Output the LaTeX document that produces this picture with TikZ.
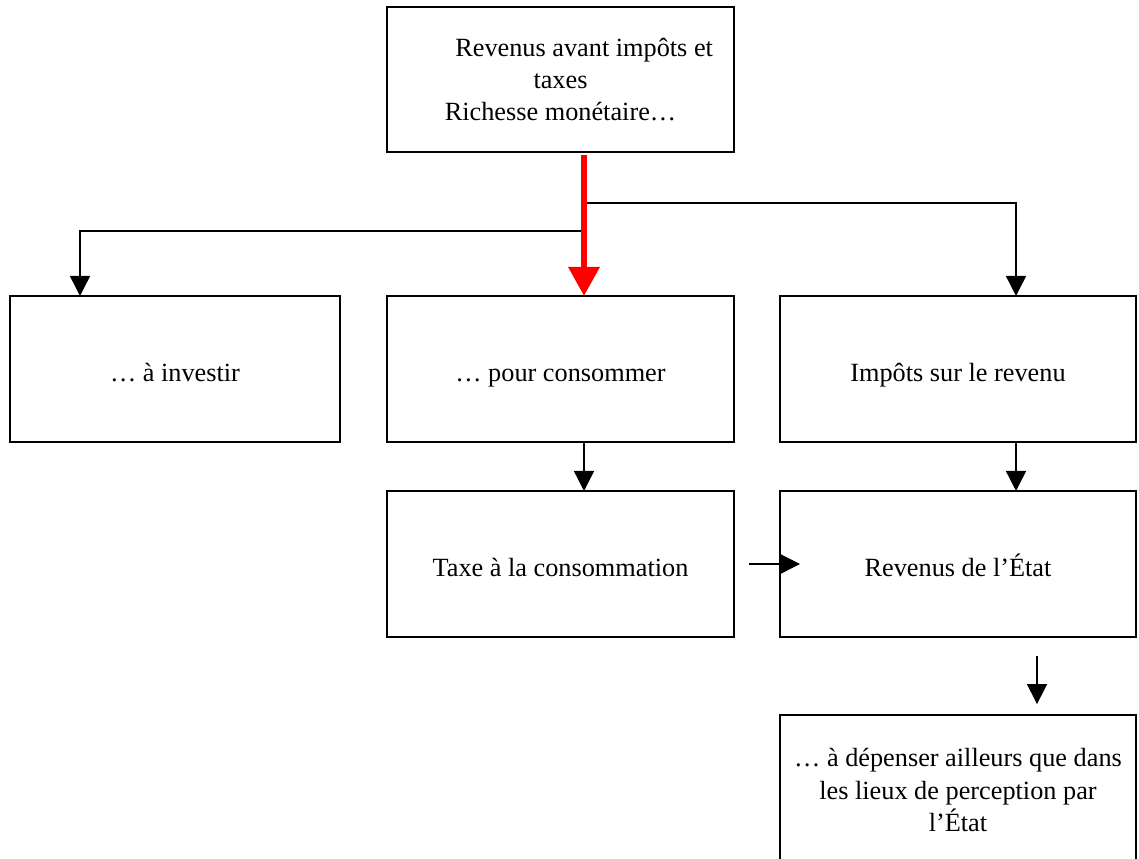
\documentclass[tikz,border=0pt]{standalone}
\usepackage{fontspec}
\setmainfont{Liberation Serif}
\usetikzlibrary{arrows.meta}

\begin{document}
\begin{tikzpicture}[x=0.43pt, y=-0.43pt, font={\fontsize{11.3pt}{13.8pt}\selectfont}, line cap=rect,
        box/.style={draw, line width=0.8pt, inner sep=0pt, outer sep=0pt, align=center, minimum height=62.8pt},
        oneline/.style={text height=10.5pt, text depth=0pt},
        arr/.style={-{Triangle[width=8.6pt,length=8.6pt]}, line width=0.6pt},
        redarr/.style={-{Triangle[width=13pt,length=12.5pt]}, color=red, line width=2.6pt, line cap=butt}]
            \clip (0, 0) rectangle (1139, 858);

            % boxes
            \node[box, minimum width=149.2pt, minimum height=62.4pt] (top) at (560.5, 79.5) {\hspace*{1.8em}Revenus avant impôts et\\taxes\\Richesse monétaire…};

            \node[box, oneline, minimum width=141.9pt] (left) at (175, 369) {… à investir};
            \node[box, oneline, minimum width=149.2pt] (mid) at (560.5, 369) {… pour consommer};
            \node[box, oneline, minimum width=153.1pt] (right) at (958, 369) {Impôts sur le revenu};

            \node[box, oneline, minimum width=149.2pt] (taxe) at (560.5, 564) {Taxe à la consommation};
            \node[box, oneline, minimum width=153.1pt] (etat) at (958, 564) {Revenus de l’État};

            \node[box, minimum width=153.1pt, minimum height=64.5pt] (last) at (958, 790) {… à dépenser ailleurs que dans\\les lieux de perception par\\l’État};

            % arrow columns and forks
            \coordinate (xl) at (80, 0);
            \coordinate (xc) at (584, 0);
            \coordinate (xr) at (1016, 0);
            \coordinate (xb) at (1037, 0);
            \coordinate (forkR) at (587, 203);
            \coordinate (forkL) at (580, 231);

            \draw[arr] (forkR) -| (xr |- right.north);
            \draw[arr] (forkL) -| (xl |- left.north);
            \draw[redarr] (top.south -| xc) ++(0, 3) -- (mid.north -| xc);

            \draw[arr] (mid.south -| xc) -- (taxe.north -| xc);
            \draw[arr] (right.south -| xr) -- (etat.north -| xr);
            \draw[arr, shorten <=6.9pt, shorten >=-8.6pt] (taxe.east) -- (etat.west);
            \draw[arr, shorten <=8.6pt, shorten >=4.7pt] (etat.south -| xb) -- (last.north -| xb);
        \end{tikzpicture}
\end{document}
